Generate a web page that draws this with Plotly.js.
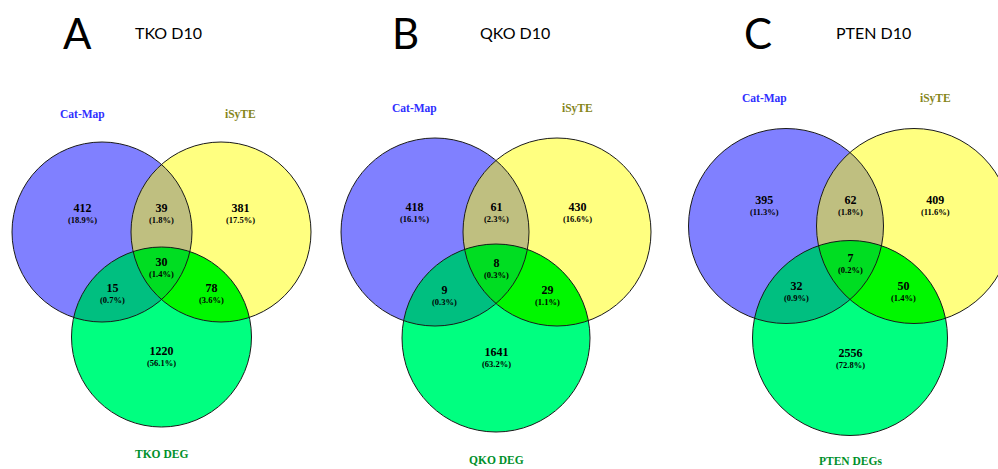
<!DOCTYPE html>
<html>
<head>
<meta charset="utf-8">
<script src="https://cdn.plot.ly/plotly-3.0.1.min.js"></script>
<style>
  html, body { margin: 0; padding: 0; background: #fff; }
  #chart { width: 998px; height: 469px; }
</style>
</head>
<body>
<div id="chart"></div>
<script>
// Three-way Venn overlaps of Cat-Map, iSyTE and each knockout's DEG list
const panelLetters = ['A', 'B', 'C'];
const panelTitles = ['TKO D10', 'QKO D10', 'PTEN D10'];
const setNameCat = 'Cat-Map';
const setNameIsyte = 'iSyTE';
const degNames = ['TKO DEG', 'QKO DEG', 'PTEN DEGs'];

// region counts per panel (A, B, C)
const catOnly   = [412, 418, 395];
const isyteOnly = [381, 430, 409];
const degOnly   = [1220, 1641, 2556];
const catIsyte  = [39, 61, 62];
const catDeg    = [15, 9, 32];
const isyteDeg  = [78, 29, 50];
const allThree  = [30, 8, 7];

// drawing geometry in page pixels: centre x, top-row y, bottom y, half spacing, radius
const geo = [
  { cx: 161.5, ty: 232, by: 337, h: 59.5, r: 90 },
  { cx: 496,   ty: 232, by: 338, h: 61,   r: 94 },
  { cx: 850,   ty: 226, by: 338, h: 64,   r: 97.5 }
];
const letterX = [77, 405, 758];
const titleX = [168, 515, 873];

const col = {
  cat: '#8080FF', isyte: '#FFFF80', deg: '#00FF80',
  catIsyte: '#BFBF80', catDeg: '#00BF80', isyteDeg: '#00F700', all: '#00DD22'
};

function inside(p, c) {
  const dx = p[0] - c.x, dy = p[1] - c.y;
  return dx * dx + dy * dy <= c.r * c.r + 1e-6;
}
function ring(c, n) {
  const pts = [];
  for (let i = 0; i < n; i++) {
    const a = 2 * Math.PI * i / n;
    pts.push([c.x + c.r * Math.cos(a), c.y + c.r * Math.sin(a)]);
  }
  return pts;
}
// outline of the intersection of a list of circles (convex), as a closed polygon
function intersection(circles) {
  let pts = [];
  circles.forEach((c, i) => {
    ring(c, 1440).forEach(p => {
      if (circles.every((o, j) => j === i || inside(p, o))) pts.push(p);
    });
  });
  const mx = pts.reduce((s, p) => s + p[0], 0) / pts.length;
  const my = pts.reduce((s, p) => s + p[1], 0) / pts.length;
  pts.sort((a, b) => Math.atan2(a[1] - my, a[0] - mx) - Math.atan2(b[1] - my, b[0] - mx));
  pts.push(pts[0]);
  return pts;
}
function fillTrace(pts, color) {
  return {
    type: 'scatter', mode: 'lines', fill: 'toself', fillcolor: color,
    x: pts.map(p => p[0]), y: pts.map(p => p[1]),
    line: { width: 0, color: color }, hoverinfo: 'skip', showlegend: false
  };
}

const traces = [];
const shapes = [];
const annotations = [];
const serif = 'Liberation Serif, Times New Roman, serif';
const sans = 'Lato, Open Sans, sans-serif';

function label(x, y, text, size, color, family) {
  annotations.push({
    x: x, y: y, xref: 'x', yref: 'y', text: text, showarrow: false,
    xanchor: 'center', yanchor: 'middle', borderpad: 0,
    font: { family: family || serif, size: size, color: color || '#000' }
  });
}
// count on the first line, share of the total underneath
function regionLabel(x, y, n, total) {
  const pct = (100 * n / total).toFixed(1);
  label(x, y + 5, '<span style="font-size:12px"><b>' + n + '</b></span><br><b>(' + pct + '%)</b>', 8.5, '#000');
}

geo.forEach((g, k) => {
  const cCat = { x: g.cx - g.h, y: g.ty, r: g.r };
  const cIsy = { x: g.cx + g.h, y: g.ty, r: g.r };
  const cDeg = { x: g.cx, y: g.by, r: g.r };

  traces.push(fillTrace(intersection([cCat]), col.cat));
  traces.push(fillTrace(intersection([cIsy]), col.isyte));
  traces.push(fillTrace(intersection([cDeg]), col.deg));
  traces.push(fillTrace(intersection([cCat, cIsy]), col.catIsyte));
  traces.push(fillTrace(intersection([cCat, cDeg]), col.catDeg));
  traces.push(fillTrace(intersection([cIsy, cDeg]), col.isyteDeg));
  traces.push(fillTrace(intersection([cCat, cIsy, cDeg]), col.all));

  [cCat, cIsy, cDeg].forEach(c => shapes.push({
    type: 'circle', xref: 'x', yref: 'y', layer: 'above',
    x0: c.x - c.r, x1: c.x + c.r, y0: c.y - c.r, y1: c.y + c.r,
    line: { color: '#1a1a1a', width: 1 }, fillcolor: 'rgba(0,0,0,0)'
  }));

  const total = catOnly[k] + isyteOnly[k] + degOnly[k] + catIsyte[k] +
                catDeg[k] + isyteDeg[k] + allThree[k];
  const r = g.r;
  const yTop = g.ty - 0.265 * r;
  regionLabel(cCat.x - 0.22 * r, yTop, catOnly[k], total);
  regionLabel(g.cx, yTop, catIsyte[k], total);
  regionLabel(cIsy.x + 0.22 * r, yTop, isyteOnly[k], total);
  regionLabel(g.cx, g.ty + 0.33 * r, allThree[k], total);
  regionLabel(g.cx - 0.55 * r, g.ty + 0.62 * r, catDeg[k], total);
  regionLabel(g.cx + 0.55 * r, g.ty + 0.62 * r, isyteDeg[k], total);
  regionLabel(g.cx, g.by + 0.15 * r, degOnly[k], total);

  label(cCat.x - 0.22 * r, g.ty - 1.31 * r, '<b>' + setNameCat + '</b>', 11.5, '#2F2FFF');
  label(cIsy.x + 0.22 * r, g.ty - 1.31 * r, '<b>' + setNameIsyte + '</b>', 11.5, '#85851A');
  label(g.cx, Math.min(g.by + 1.3 * r, 461), '<b>' + degNames[k] + '</b>', 11.5, '#00902A');

  label(letterX[k], 33, panelLetters[k], 42, '#000', sans);
  label(titleX[k], 32, panelTitles[k], 16, '#000', sans);
});

const layout = {
  width: 998, height: 469,
  margin: { l: 0, r: 0, t: 0, b: 0 },
  paper_bgcolor: '#fff', plot_bgcolor: '#fff',
  xaxis: { range: [0, 998], visible: false, fixedrange: true },
  yaxis: { range: [469, 0], visible: false, fixedrange: true },
  shapes: shapes,
  annotations: annotations,
  showlegend: false
};

Plotly.newPlot('chart', traces, layout, { staticPlot: true, displayModeBar: false });
</script>
</body>
</html>
